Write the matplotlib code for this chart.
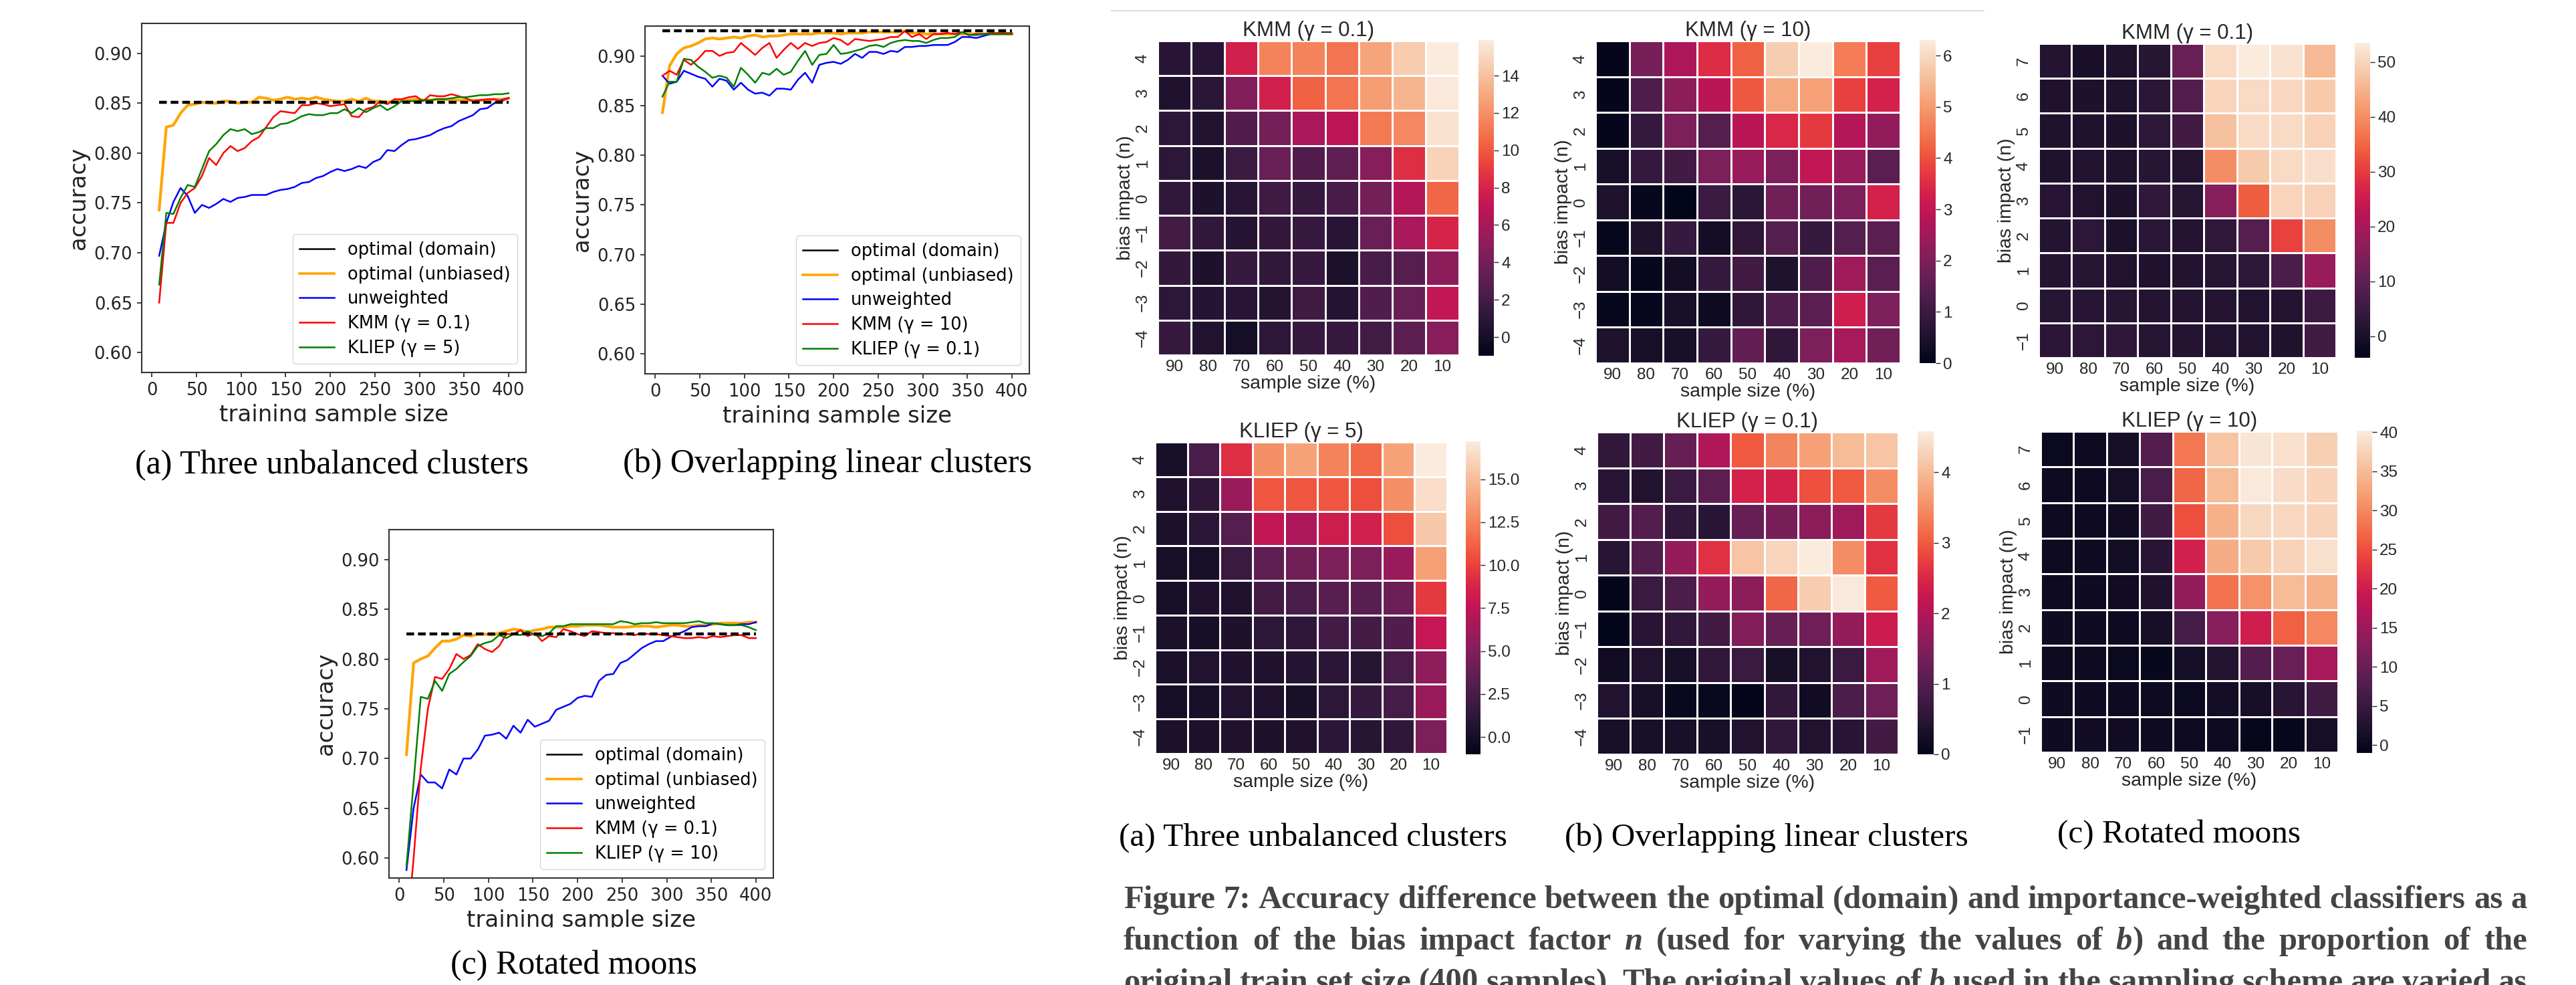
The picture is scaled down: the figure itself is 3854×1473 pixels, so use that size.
"""
Figure 7 - accuracy curves (left) and accuracy-difference heatmaps (right).
Writes out.png.
"""

import matplotlib
matplotlib.use("Agg")
import matplotlib.pyplot as plt
from matplotlib.lines import Line2D
from matplotlib.patches import Rectangle
import numpy as np
import seaborn as sns

W, H = 3855, 1473

# ---------------- accuracy curves ----------------
sample_size = np.arange(8, 401, 8)

opt_domain_a = 0.851
unbiased_a = [0.743, 0.826, 0.828, 0.840, 0.848, 0.849, 0.851, 0.850, 0.850, 0.852,
              0.852, 0.850, 0.851, 0.851, 0.856, 0.855, 0.853, 0.854, 0.856, 0.854,
              0.855, 0.854, 0.856, 0.854, 0.853, 0.852, 0.852, 0.854, 0.852, 0.855,
              0.852, 0.852, 0.851, 0.852, 0.853, 0.853, 0.854, 0.853, 0.853, 0.854,
              0.854, 0.853, 0.853, 0.853, 0.853, 0.853, 0.853, 0.854, 0.854, 0.855]
unweighted_a = [0.697, 0.730, 0.751, 0.765, 0.757, 0.740, 0.748, 0.745, 0.749, 0.754,
                0.751, 0.755, 0.756, 0.758, 0.758, 0.758, 0.761, 0.763, 0.764, 0.766,
                0.770, 0.771, 0.775, 0.777, 0.781, 0.784, 0.782, 0.784, 0.787, 0.785,
                0.791, 0.794, 0.803, 0.802, 0.808, 0.813, 0.814, 0.816, 0.818, 0.822,
                0.825, 0.827, 0.832, 0.835, 0.838, 0.844, 0.845, 0.850, 0.853, 0.855]
kmm_a = [0.650, 0.730, 0.730, 0.750, 0.760, 0.765, 0.777, 0.795, 0.788, 0.800,
         0.807, 0.802, 0.805, 0.812, 0.816, 0.826, 0.836, 0.842, 0.841, 0.840,
         0.848, 0.848, 0.850, 0.849, 0.847, 0.848, 0.849, 0.837, 0.836, 0.844,
         0.846, 0.852, 0.849, 0.854, 0.854, 0.856, 0.857, 0.852, 0.858, 0.857,
         0.857, 0.859, 0.857, 0.855, 0.852, 0.853, 0.854, 0.854, 0.852, 0.855]
kliep_a = [0.668, 0.740, 0.739, 0.755, 0.768, 0.766, 0.784, 0.802, 0.809, 0.818,
           0.824, 0.822, 0.824, 0.819, 0.821, 0.825, 0.825, 0.829, 0.830, 0.833,
           0.837, 0.839, 0.838, 0.838, 0.840, 0.840, 0.844, 0.840, 0.845, 0.841,
           0.845, 0.848, 0.843, 0.847, 0.852, 0.852, 0.852, 0.853, 0.853, 0.854,
           0.854, 0.855, 0.856, 0.856, 0.857, 0.858, 0.858, 0.859, 0.859, 0.860]

opt_domain_b = 0.925
unbiased_b = [0.843, 0.890, 0.902, 0.908, 0.910, 0.913, 0.917, 0.918, 0.917, 0.918,
              0.919, 0.918, 0.920, 0.921, 0.919, 0.920, 0.920, 0.921, 0.922, 0.922,
              0.922, 0.922, 0.923, 0.923, 0.923, 0.922, 0.923, 0.923, 0.923, 0.924,
              0.924, 0.924, 0.924, 0.924, 0.925, 0.923, 0.923, 0.922, 0.922, 0.922,
              0.922, 0.922, 0.922, 0.922, 0.922, 0.922, 0.922, 0.922, 0.922, 0.922]
unweighted_b = [0.880, 0.872, 0.874, 0.885, 0.882, 0.879, 0.877, 0.869, 0.877, 0.875,
                0.866, 0.873, 0.866, 0.862, 0.863, 0.860, 0.867, 0.867, 0.866, 0.876,
                0.883, 0.873, 0.891, 0.893, 0.894, 0.892, 0.896, 0.902, 0.898, 0.904,
                0.904, 0.902, 0.905, 0.904, 0.909, 0.909, 0.910, 0.910, 0.911, 0.911,
                0.911, 0.914, 0.919, 0.919, 0.918, 0.920, 0.922, 0.922, 0.922, 0.922]
kmm_b = [0.880, 0.885, 0.881, 0.896, 0.891, 0.897, 0.905, 0.905, 0.900, 0.903,
         0.904, 0.913, 0.907, 0.901, 0.908, 0.913, 0.898, 0.906, 0.913, 0.907,
         0.913, 0.910, 0.913, 0.914, 0.918, 0.916, 0.911, 0.917, 0.916, 0.915,
         0.916, 0.917, 0.919, 0.919, 0.925, 0.919, 0.922, 0.917, 0.922, 0.922,
         0.923, 0.922, 0.924, 0.921, 0.922, 0.922, 0.923, 0.923, 0.923, 0.923]
kliep_b = [0.859, 0.874, 0.874, 0.897, 0.896, 0.889, 0.884, 0.878, 0.880, 0.878,
           0.869, 0.888, 0.881, 0.873, 0.883, 0.881, 0.887, 0.881, 0.884, 0.895,
           0.905, 0.891, 0.901, 0.902, 0.911, 0.902, 0.903, 0.905, 0.907, 0.910,
           0.911, 0.909, 0.913, 0.915, 0.916, 0.915, 0.915, 0.913, 0.916, 0.918,
           0.918, 0.919, 0.924, 0.921, 0.921, 0.922, 0.922, 0.922, 0.922, 0.922]

opt_domain_c = 0.825
unbiased_c = [0.704, 0.796, 0.800, 0.803, 0.811, 0.818, 0.818, 0.820, 0.824, 0.823,
              0.825, 0.825, 0.824, 0.826, 0.828, 0.830, 0.829, 0.827, 0.829, 0.830,
              0.832, 0.832, 0.832, 0.833, 0.833, 0.834, 0.834, 0.834, 0.833, 0.832,
              0.832, 0.832, 0.833, 0.833, 0.833, 0.832, 0.833, 0.834, 0.834, 0.833,
              0.833, 0.834, 0.834, 0.835, 0.836, 0.836, 0.836, 0.836, 0.837, 0.837]
unweighted_c = [0.588, 0.650, 0.684, 0.676, 0.676, 0.670, 0.689, 0.684, 0.700, 0.700,
                0.709, 0.723, 0.724, 0.726, 0.720, 0.733, 0.726, 0.739, 0.732, 0.735,
                0.738, 0.749, 0.752, 0.755, 0.761, 0.763, 0.762, 0.778, 0.784, 0.785,
                0.796, 0.799, 0.805, 0.811, 0.815, 0.818, 0.818, 0.822, 0.825, 0.828,
                0.832, 0.833, 0.833, 0.836, 0.835, 0.834, 0.834, 0.835, 0.835, 0.837]
kmm_c = [0.520, 0.600, 0.690, 0.750, 0.782, 0.780, 0.790, 0.805, 0.800, 0.804,
         0.815, 0.810, 0.807, 0.813, 0.825, 0.825, 0.829, 0.823, 0.826, 0.818,
         0.823, 0.822, 0.830, 0.828, 0.825, 0.823, 0.828, 0.827, 0.826, 0.826,
         0.825, 0.825, 0.824, 0.826, 0.825, 0.825, 0.824, 0.823, 0.822, 0.821,
         0.821, 0.822, 0.821, 0.823, 0.822, 0.823, 0.824, 0.824, 0.821, 0.821]
kliep_c = [0.592, 0.676, 0.762, 0.760, 0.778, 0.768, 0.785, 0.790, 0.797, 0.803,
           0.813, 0.816, 0.818, 0.824, 0.821, 0.825, 0.824, 0.828, 0.824, 0.823,
           0.826, 0.833, 0.833, 0.835, 0.835, 0.835, 0.835, 0.835, 0.835, 0.835,
           0.838, 0.837, 0.835, 0.836, 0.836, 0.837, 0.836, 0.836, 0.836, 0.836,
           0.837, 0.838, 0.836, 0.836, 0.835, 0.834, 0.834, 0.834, 0.832, 0.829]

acc_yticks = [0.60, 0.65, 0.70, 0.75, 0.80, 0.85, 0.90]
acc_xticks = [0, 50, 100, 150, 200, 250, 300, 350, 400]

# ---------------- heatmaps (accuracy difference, %) ----------------
sample_pct = [90, 80, 70, 60, 50, 40, 30, 20, 10]
bias_ab = ["4", "3", "2", "1", "0", "\u22121", "\u22122", "\u22123", "\u22124"]
bias_c = ["7", "6", "5", "4", "3", "2", "1", "0", "\u22121"]

diff_kmm_three = [
    [0.8, 0.8, 7.8, 11.5, 11.5, 11.0, 12.8, 14.5, 15.9],
    [0.4, 0.9, 4.5, 7.8, 10.3, 11.0, 12.5, 13.5, 15.8],
    [1.0, 0.5, 2.5, 4.0, 6.0, 6.8, 11.2, 11.7, 15.5],
    [1.0, 0.2, 1.6, 3.5, 2.5, 3.2, 4.8, 8.5, 14.8],
    [1.2, 0.3, 0.8, 1.8, 1.5, 2.2, 4.0, 6.5, 10.5],
    [2.0, 1.2, 0.7, 1.3, 1.5, 0.8, 3.5, 6.0, 8.0],
    [1.3, 0.3, 1.5, 1.2, 1.5, 0.2, 2.2, 2.8, 5.0],
    [1.0, 0.7, 0.8, 0.6, 1.8, 0.7, 2.5, 3.5, 7.0],
    [1.5, 0.5, -0.1, 1.0, 1.5, 1.5, 2.0, 3.0, 4.8],
]
diff_kmm_overlap = [
    [0.05, 1.9, 2.7, 3.5, 4.2, 5.8, 6.3, 4.6, 3.8],
    [0.05, 1.3, 2.2, 2.9, 4.1, 5.2, 5.1, 3.8, 3.3],
    [0.05, 0.9, 2.0, 1.4, 2.9, 3.4, 3.7, 2.8, 2.3],
    [0.4, 0.9, 1.1, 2.0, 2.4, 2.0, 3.0, 2.4, 1.5],
    [0.5, 0.1, 0.0, 1.0, 0.7, 1.8, 1.8, 2.0, 3.3],
    [0.1, 0.5, 0.9, 0.3, 0.8, 1.4, 0.9, 1.4, 1.5],
    [0.3, 0.1, 0.3, 0.9, 1.1, 0.5, 1.3, 2.5, 1.5],
    [0.1, 0.1, 0.4, 0.2, 0.8, 1.3, 1.5, 3.2, 2.0],
    [0.5, 0.4, 0.4, 0.9, 1.6, 0.8, 2.0, 2.6, 1.8],
]
diff_kmm_moons = [
    [1.5, 0.0, 0.8, 2.0, 11.5, 51.0, 53.5, 52.0, 46.0],
    [1.0, 0.5, 0.8, 2.5, 8.5, 50.0, 51.0, 50.5, 48.5],
    [0.8, 0.7, 0.5, 3.0, 6.0, 47.0, 51.0, 51.0, 49.5],
    [0.8, 1.3, 0.8, 2.0, 1.5, 40.0, 48.5, 51.0, 51.5],
    [2.2, 1.2, 0.5, 3.5, 2.0, 15.5, 34.0, 50.0, 49.5],
    [1.5, 3.0, 0.2, 2.5, 1.5, 3.5, 9.0, 31.0, 40.0],
    [1.6, 2.0, 1.2, 1.0, 1.3, 2.0, 3.0, 7.5, 18.0],
    [2.0, 2.2, 2.0, 1.5, 1.5, 1.5, 1.2, 1.5, 5.5],
    [2.8, 3.0, 3.2, 2.0, 1.5, 1.2, 1.2, 0.8, 6.0],
]
diff_kliep_three = [
    [0.2, 2.5, 9.2, 13.0, 13.8, 12.5, 11.5, 13.8, 17.2],
    [0.5, 1.3, 6.0, 10.8, 10.8, 10.8, 10.5, 13.0, 16.5],
    [0.3, 1.0, 3.0, 7.7, 6.8, 8.2, 8.5, 10.5, 15.5],
    [0.2, 0.2, 1.8, 3.5, 4.2, 4.8, 4.8, 6.0, 13.7],
    [0.2, 0.5, 0.5, 2.2, 2.5, 3.2, 3.2, 4.0, 9.7],
    [0.3, 0.1, 0.4, 1.2, 1.3, 2.2, 2.2, 2.8, 7.8],
    [0.3, 0.6, 0.5, 0.5, 0.8, 1.1, 0.9, 2.5, 5.5],
    [0.1, 0.2, 0.6, 0.5, 0.2, 1.2, 1.6, 2.3, 6.0],
    [0.3, 0.4, 0.5, 0.4, 0.5, 1.0, 0.9, 1.3, 4.8],
]
diff_kliep_overlap = [
    [0.6, 0.8, 1.2, 2.0, 3.0, 3.4, 3.7, 4.0, 4.1],
    [0.5, 0.4, 0.7, 1.1, 2.4, 2.4, 2.9, 3.0, 3.5],
    [0.8, 1.0, 0.6, 0.5, 1.2, 1.4, 1.6, 1.8, 2.7],
    [0.5, 1.0, 1.7, 2.6, 4.1, 4.3, 4.58, 3.5, 2.6],
    [0.05, 0.7, 0.9, 1.7, 1.6, 3.1, 4.2, 4.55, 3.0],
    [0.0, 0.5, 0.6, 0.8, 1.5, 1.2, 1.3, 1.7, 2.3],
    [0.2, 0.4, 0.3, 0.6, 0.7, 0.3, 0.4, 0.7, 1.8],
    [0.4, 0.3, 0.1, 0.1, 0.05, 0.6, 0.2, 0.9, 1.3],
    [0.3, 0.3, 0.3, 0.3, 0.4, 0.6, 0.4, 0.5, 0.8],
]
diff_kliep_moons = [
    [0.0, 0.3, 1.5, 8.0, 28.5, 36.0, 39.5, 39.0, 37.0],
    [0.3, 0.3, 1.2, 7.0, 27.0, 35.0, 40.0, 38.5, 37.5],
    [0.3, 0.3, 0.8, 6.0, 25.0, 34.0, 38.0, 38.0, 37.5],
    [0.3, 0.5, 1.0, 3.5, 20.5, 33.5, 36.5, 37.5, 39.0],
    [0.3, 0.5, 0.8, 2.5, 14.0, 28.0, 31.0, 35.0, 34.0],
    [0.5, 0.5, 0.3, 1.5, 6.5, 13.0, 20.0, 26.5, 30.0],
    [0.3, 0.3, 0.0, -0.2, 1.2, 3.0, 8.0, 10.0, 16.0],
    [0.5, 0.5, 0.3, 0.3, 0.2, 1.0, 1.5, 3.5, 6.0],
    [0.5, 0.8, 0.8, 0.5, 0.3, 0.3, -0.5, -0.3, 1.3],
]

caption_lines = [
    "Figure 7: Accuracy difference between the optimal (domain) and importance-weighted classifiers as a",
    "function of the bias impact factor *n* (used for varying the values of *b*) and the proportion of the",
    "original train set size (400 samples). The original values of *b* used in the sampling scheme are varied as",
]

fig = plt.figure(figsize=(W / 100, H / 100), dpi=100)
fig.patch.set_facecolor("white")


def px_box(x0, y0, x1, y1):
    # pixel box (top-left origin) -> figure fraction rect
    return [x0 / W, 1 - y1 / H, (x1 - x0) / W, (y1 - y0) / H]


def fig_text(x, y, s, **kw):
    return fig.text(x / W, 1 - y / H, s, **kw)


def accuracy_panel(box, opt, unbiased, unweighted, kmm, kliep, kmm_lab, kliep_lab):
    ax = fig.add_axes(px_box(*box))
    height = box[3] - box[1]
    ax.plot(sample_size, unbiased, color="orange", lw=3.0)
    ax.plot(sample_size, unweighted, color="blue", lw=1.8)
    ax.plot(sample_size, kmm, color="red", lw=1.8)
    ax.plot(sample_size, kliep, color="green", lw=1.8)
    ax.plot([sample_size[0], sample_size[-1]], [opt, opt], color="black",
            lw=3.2, dashes=(2.6, 1.3), zorder=5)
    ax.set_ylim(0.58, 0.93)
    ax.set_xlim(-11.6, 419.6)
    ax.set_yticks(acc_yticks)
    ax.set_xticks(acc_xticks)
    ax.tick_params(labelsize=18.5, length=5, width=1.2, pad=5, colors="#222222")
    for sp in ax.spines.values():
        sp.set_linewidth(1.5)
        sp.set_color("#333333")
    ax.set_xlabel("training sample size", fontsize=24.5, color="#222222")
    ax.xaxis.set_label_coords(0.5, -73 / height)
    ax.xaxis.label.set_va("baseline")
    ax.set_ylabel("accuracy", fontsize=24.5, color="#222222", labelpad=5)
    handles = [Line2D([], [], color="black", lw=1.8),
               Line2D([], [], color="orange", lw=2.6),
               Line2D([], [], color="blue", lw=1.8),
               Line2D([], [], color="red", lw=1.8),
               Line2D([], [], color="green", lw=1.8)]
    labels = ["optimal (domain)", "optimal (unbiased)", "unweighted", kmm_lab, kliep_lab]
    ax.legend(handles, labels, loc="lower right", fontsize=18.5, labelspacing=0.42,
              handlelength=2.0)
    return ax


accuracy_panel((212, 35, 787, 557), opt_domain_a, unbiased_a, unweighted_a, kmm_a, kliep_a,
               "KMM (\u03b3 = 0.1)", "KLIEP (\u03b3 = 5)")
accuracy_panel((965, 39, 1540, 559), opt_domain_b, unbiased_b, unweighted_b, kmm_b, kliep_b,
               "KMM (\u03b3 = 10)", "KLIEP (\u03b3 = 0.1)")
accuracy_panel((582, 792, 1157, 1313), opt_domain_c, unbiased_c, unweighted_c, kmm_c, kliep_c,
               "KMM (\u03b3 = 0.1)", "KLIEP (\u03b3 = 10)")

# the x labels of the curve plots are cut off in the source picture
for x0, y0, x1, y1 in [(200, 631, 800, 668), (950, 633, 1560, 668), (570, 1387, 1170, 1418)]:
    fig.add_artist(Rectangle((x0 / W, 1 - y1 / H), (x1 - x0) / W, (y1 - y0) / H,
                             transform=fig.transFigure, color="white", zorder=10))

serif = "Liberation Serif"
fig_text(496, 708, "(a) Three unbalanced clusters", fontsize=36, family=serif, ha="center", va="baseline")
fig_text(1238, 706, "(b) Overlapping linear clusters", fontsize=36, family=serif, ha="center", va="baseline")
fig_text(858, 1456, "(c) Rotated moons", fontsize=36, family=serif, ha="center", va="baseline")

# ---------------- heatmaps ----------------
sans = "Liberation Sans"
hm_color = "#262626"


def heat_panel(box, cbox, data, ylabels, vmin, vmax, cticks, cfmt, title):
    ax = fig.add_axes(px_box(*box))
    cax = fig.add_axes(px_box(*cbox))
    sns.heatmap(np.array(data), ax=ax, cbar_ax=cax, cmap="rocket", vmin=vmin, vmax=vmax,
                linewidths=1.8, linecolor="white",
                xticklabels=sample_pct, yticklabels=ylabels)
    ax.set_xticklabels([str(v) for v in sample_pct], rotation=0, fontsize=17.5,
                       family=sans, color=hm_color)
    ax.set_yticklabels(ylabels, rotation=90, va="center", fontsize=17.5,
                       family=sans, color=hm_color)
    ax.tick_params(axis="both", length=0)
    ax.tick_params(axis="x", pad=5)
    ax.tick_params(axis="y", pad=8)
    ax.set_xlabel("sample size (%)", fontsize=20.5, family=sans, color=hm_color, labelpad=1)
    ax.set_ylabel("bias impact (n)", fontsize=20.5, family=sans, color=hm_color, labelpad=1)
    ax.set_title(title, fontsize=22.5, family=sans, color=hm_color, pad=2)
    cbar = ax.collections[0].colorbar
    cbar.set_ticks(cticks)
    cbar.set_ticklabels([cfmt.format(t) for t in cticks], fontsize=17.5, family=sans,
                        color=hm_color)
    cbar.outline.set_linewidth(0)
    cax.tick_params(length=5, width=1, pad=3, colors=hm_color)
    return ax


heat_panel((1732, 61, 2183, 531), (2212, 60, 2235, 532), diff_kmm_three, bias_ab,
           -1.0, 15.9, [0, 2, 4, 6, 8, 10, 12, 14], "{:g}", "KMM (\u03b3 = 0.1)")
heat_panel((2387, 61, 2843, 543), (2872, 60, 2896, 543), diff_kmm_overlap, bias_ab,
           0.0, 6.3, [0, 1, 2, 3, 4, 5, 6], "{:g}", "KMM (\u03b3 = 10)")
heat_panel((3050, 65, 3495, 535), (3523, 64, 3546, 535), diff_kmm_moons, bias_c,
           -3.9, 53.5, [0, 10, 20, 30, 40, 50], "{:g}", "KMM (\u03b3 = 0.1)")
heat_panel((1728, 661, 2165, 1127), (2193, 660, 2215, 1128), diff_kliep_three, bias_ab,
           -1.0, 17.2, [0.0, 2.5, 5.0, 7.5, 10.0, 12.5, 15.0], "{:.1f}", "KLIEP (\u03b3 = 5)")
heat_panel((2389, 646, 2840, 1128), (2869, 645, 2893, 1128), diff_kliep_overlap, bias_ab,
           0.0, 4.58, [0, 1, 2, 3, 4], "{:g}", "KLIEP (\u03b3 = 0.1)")
heat_panel((3053, 645, 3498, 1125), (3526, 644, 3549, 1126), diff_kliep_moons, bias_c,
           -1.0, 40.2, [0, 5, 10, 15, 20, 25, 30, 35, 40], "{:g}", "KLIEP (\u03b3 = 10)")

# thin rule above the heatmaps
fig.add_artist(Line2D([1663 / W, 2968 / W], [1 - 16 / H, 1 - 16 / H],
                      transform=fig.transFigure, color="#dddddd", lw=1.5))

fig_text(1964, 1265, "(a) Three unbalanced clusters", fontsize=35.5, family=serif, ha="center", va="baseline")
fig_text(2643, 1265, "(b) Overlapping linear clusters", fontsize=35.5, family=serif, ha="center", va="baseline")
fig_text(3260, 1260, "(c) Rotated moons", fontsize=35.5, family=serif, ha="center", va="baseline")


def justified_line(line, x0, x1, y_base, size, color):
    renderer = fig.canvas.get_renderer()
    words = []
    for word in line.split(" "):
        parts = word.split("*")
        segs = []
        for i, p in enumerate(parts):
            if not p:
                continue
            t = fig_text(0, y_base, p, fontsize=size, family=serif, weight="bold",
                         style="italic" if i % 2 else "normal", color=color,
                         ha="left", va="baseline")
            segs.append((t, t.get_window_extent(renderer).width))
        words.append((segs, sum(w for _, w in segs)))
    gap = (x1 - x0 - sum(w for _, w in words)) / (len(words) - 1)
    x = x0
    for segs, width in words:
        xx = x
        for t, w in segs:
            t.set_position((xx / W, 1 - y_base / H))
            xx += w
        x += width + gap


for i, line in enumerate(caption_lines):
    justified_line(line, 1681, 3781, 1358 + 62 * i, 35, "#444444")

fig.savefig("out.png", dpi=100, facecolor="white")
